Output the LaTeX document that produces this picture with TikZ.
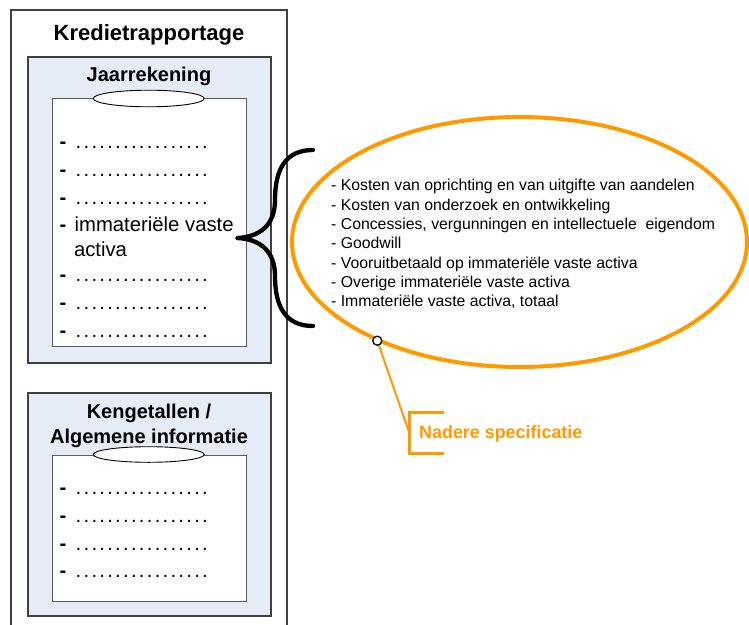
\documentclass[tikz,border=0pt]{standalone}
\usepackage{fontspec}
\setmainfont{Liberation Sans}
\definecolor{boxblue}{RGB}{230,236,246}
\definecolor{frame}{RGB}{64,64,64}
\definecolor{orng}{RGB}{255,153,0}
\newcommand{\dd}{\makebox[7.9pt]{.}}
\newcommand{\dotrow}{\dd\dd\dd\dd\dd\dd\dd\dd\dd\dd\dd\dd\dd\dd\dd\dd\dd}
\newcommand{\dsh}{{\bfseries -}\hspace{2.5pt} }
\tikzset{
  outerframe/.style={draw=frame, line width=1.2pt},
  panel/.style={draw=frame, line width=1.3pt, fill=boxblue},
  sheet/.style={draw=frame!85, line width=1pt, fill=white},
  tab/.style={draw=black, line width=0.9pt, fill=white},
  ttl/.style={font=\fontsize{22}{26}\selectfont\bfseries, anchor=base, inner sep=0},
  sub/.style={font=\fontsize{20}{24}\selectfont\bfseries, anchor=base, inner sep=0},
  item/.style={font=\fontsize{20.3}{24}\selectfont, anchor=base west, inner sep=0},
  spec/.style={font=\fontsize{15.8}{19.3}\selectfont, anchor=base west, inner sep=0, align=left},
  callout/.style={font=\fontsize{17.9}{21}\selectfont\bfseries, text=orng, anchor=base west, inner sep=0},
}
\begin{document}
\begin{tikzpicture}[x=1pt,y=-1pt]
\useasboundingbox (0,0) rectangle (749,624);
% outer frame (runs off the bottom)
\draw[outerframe] (11,630) -- (11,10) -- (287,10) -- (287,630);
\node[ttl] (title) at (149,40) {Kredietrapportage};

% Jaarrekening panel
\draw[panel] (28,57) rectangle (271,363);
\node[sub] (jr) at (149,81) {Jaarrekening};
\draw[sheet] (52.5,98) rectangle (246,346);
\draw[tab] (148.7,98.5) ellipse [x radius=55.5, y radius=8.3];
\node[item] (j1) at (59.5,148) {\dsh\dotrow};
\node[item] (j2) at (59.5,176) {\dsh\dotrow};
\node[item] (j3) at (59.5,204) {\dsh\dotrow};
\node[item] (j4) at (59.5,231) {\dsh immateriële vaste};
\node[item] (j5) at (73.8,256) {activa};
\node[item] (j6) at (59.5,281) {\dsh\dotrow};
\node[item] (j7) at (59.5,309) {\dsh\dotrow};
\node[item] (j8) at (59.5,337) {\dsh\dotrow};

% Kengetallen panel
\draw[panel] (28,393) rectangle (271,616);
\node[sub] (kg1) at (149,418.3) {Kengetallen /};
\node[sub] (kg2) at (149,443.3) {Algemene informatie};
\draw[sheet] (52.5,455) rectangle (246,601.7);
\draw[tab] (148.7,454.5) ellipse [x radius=55.5, y radius=7.8];
\node[item] (k1) at (59.5,494) {\dsh\dotrow};
\node[item] (k2) at (59.5,522) {\dsh\dotrow};
\node[item] (k3) at (59.5,550) {\dsh\dotrow};
\node[item] (k4) at (59.5,577) {\dsh\dotrow};

% brace
\draw[line width=4.3pt, line cap=round, line join=round]
  (313,150) .. controls (285,150) and (275,170) .. (275,200)
  .. controls (275,225) and (260,237) .. (237,238)
  .. controls (260,239) and (275,251) .. (275,276)
  .. controls (275,306) and (285,326) .. (313,326);

% orange ellipse with specification
\draw[orng, line width=4pt] (519.5,242) ellipse [x radius=227.5, y radius=125];
\node[spec] (sp) at (331,306.6) {- Kosten van oprichting en van uitgifte van aandelen\\
- Kosten van onderzoek en ontwikkeling\\
- Concessies, vergunningen en intellectuele\ \ eigendom\\
- Goodwill\\
- Vooruitbetaald op immateriële vaste activa\\
- Overige immateriële vaste activa\\
- Immateriële vaste activa, totaal};

% callout
\coordinate (cb) at (409,432);
\draw[orng, line width=2pt] (377.3,340.7) -- (cb);
\node[circle, draw=black, fill=white, line width=1.3pt, minimum size=9pt, inner sep=0] (pin) at (377.3,340.7) {};
\draw[orng, line width=2.5pt] (444,412.7) -- (409.3,412.7) -- (409.3,453.3) -- (444,453.3);
\node[callout] (ns) at (419,438.3) {Nadere specificatie};
\end{tikzpicture}
\end{document}
